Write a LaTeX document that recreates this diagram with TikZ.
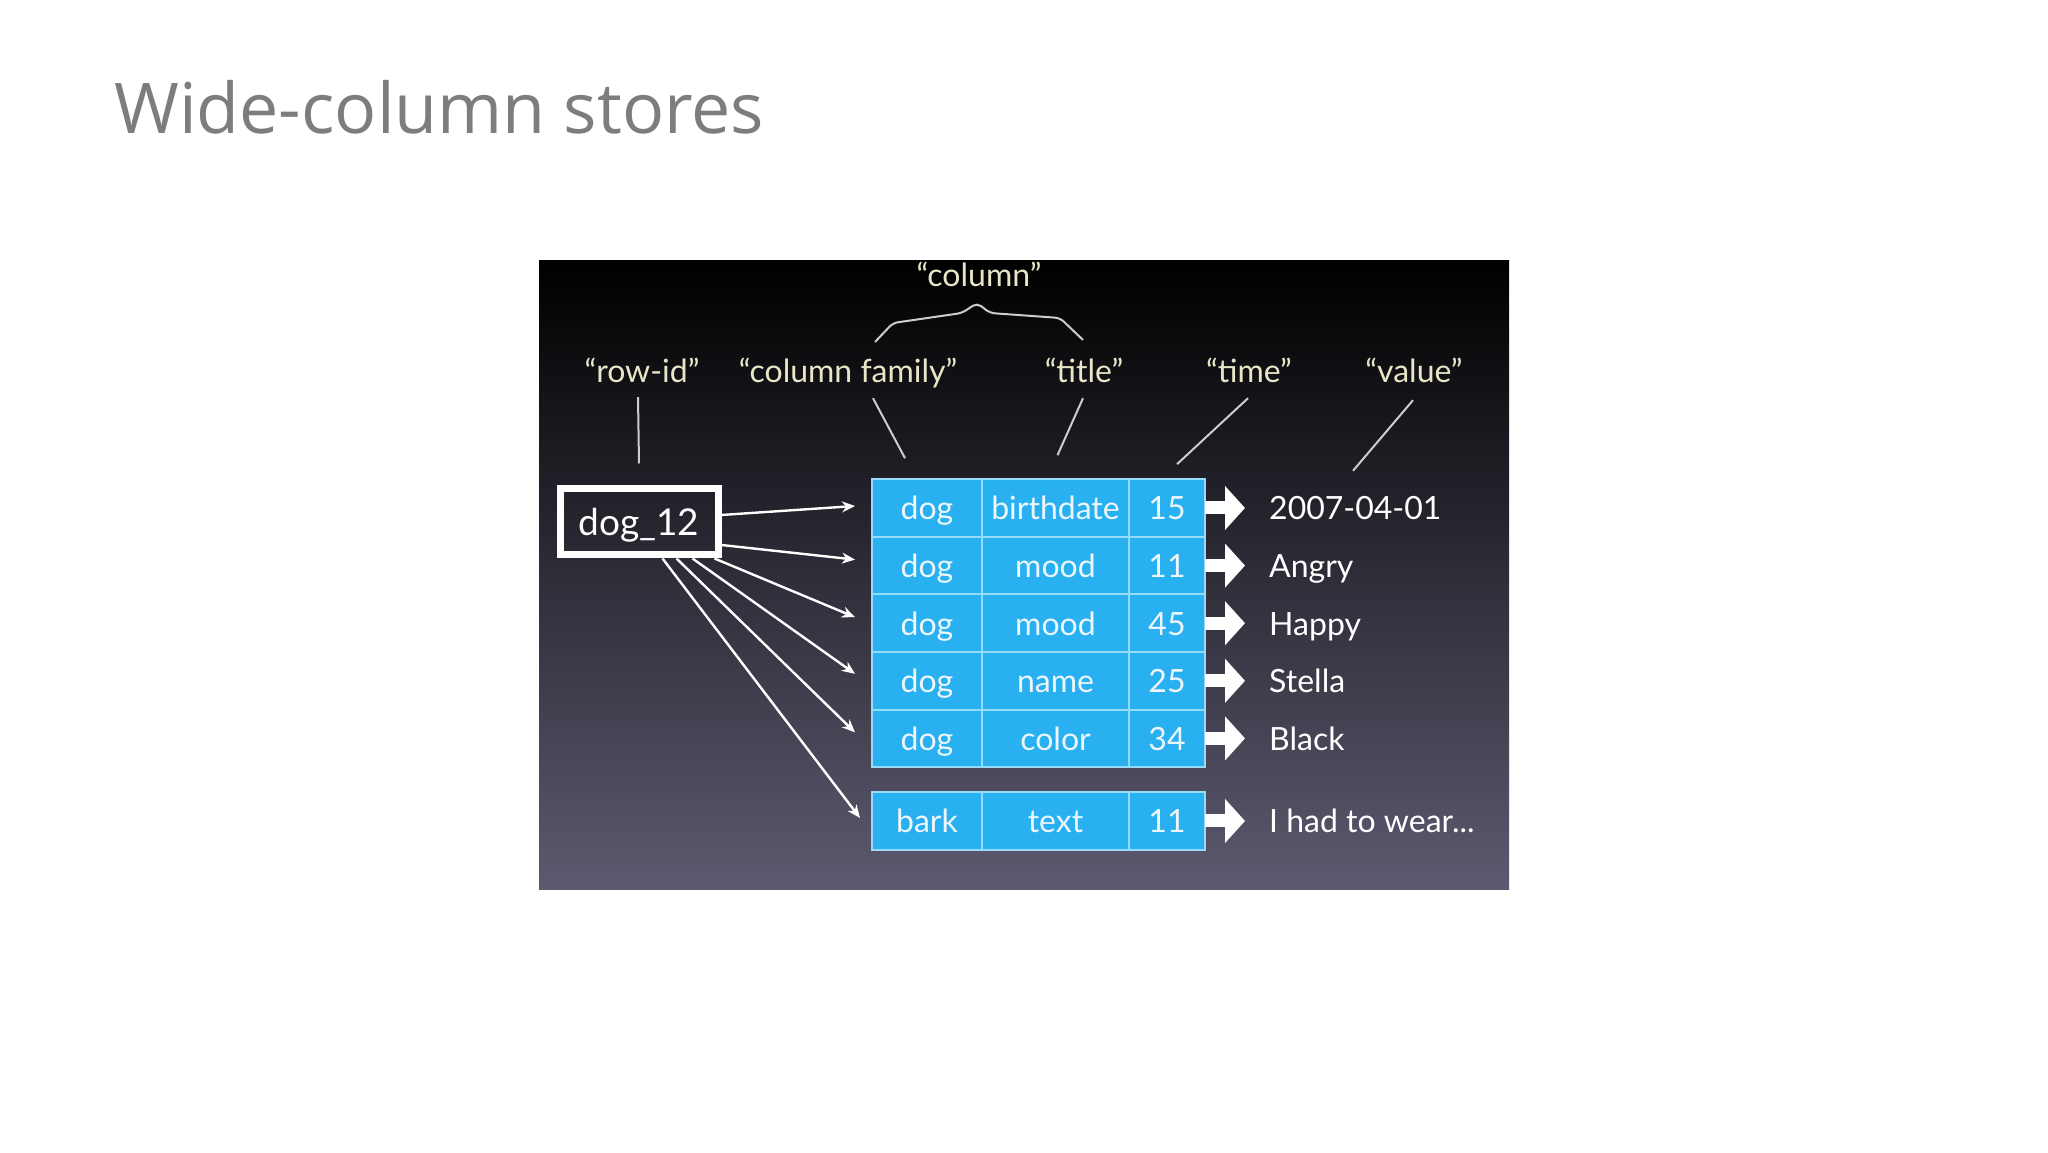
\documentclass[tikz,border=0pt]{standalone}
\usepackage{fontspec}
\setmainfont{Lato}
\newfontfamily\headingfont{Open Sans}
\usetikzlibrary{positioning, arrows.meta}

\definecolor{titlegray}{RGB}{125,125,125}
\definecolor{cellblue}{RGB}{40,176,240}
\definecolor{cellline}{RGB}{150,220,250}
\definecolor{celltext}{RGB}{236,246,252}
\definecolor{labelcream}{RGB}{232,229,200}
\definecolor{linegray}{RGB}{205,205,205}
\definecolor{panelmid}{RGB}{26,26,62}
\definecolor{panelbottom}{RGB}{92,90,112}

\tikzstyle{cell} = [rectangle, draw=cellline, fill=cellblue, line width=2pt, minimum height=57.6pt, inner sep=0pt, outer sep=0pt, text=celltext, text height=25pt, text depth=1pt, font={\fontsize{32}{36}\selectfont}]
\tikzstyle{famcell} = [cell, minimum width=110pt]
\tikzstyle{titlecell} = [cell, minimum width=147pt]
\tikzstyle{timecell} = [cell, minimum width=76pt]
\tikzstyle{valtext} = [inner sep=0pt, text=white, text height=25pt, text depth=1pt, font={\fontsize{32}{36}\selectfont}]
\tikzstyle{idbox} = [rectangle, draw=white, line width=7pt, minimum width=158pt, minimum height=66pt, inner sep=0pt, outer sep=3.5pt, text=white, text height=28pt, text depth=1pt, font={\fontsize{37}{40}\selectfont}]
\tikzstyle{hdr} = [inner sep=0pt, text=labelcream, text height=24pt, text depth=7pt, anchor=base, font={\fontsize{32}{36}\selectfont}]
\tikzstyle{pointer} = [draw=linegray, line width=2pt]
\tikzstyle{arrow} = [white, line width=2.4pt, ->, >={Stealth[length=13pt, width=11pt]}]
\tikzstyle{fat} = [white, line width=13pt, -{Triangle[length=20pt, width=43pt]}]

\begin{document}
\begin{tikzpicture}[x=1pt, y=1pt]

    \fill[white] (0,0) rectangle (2048,1152);
    \useasboundingbox (0,0) rectangle (2048,1152);

    \node (heading) [anchor=base west, inner sep=0pt, text=titlegray, font={\headingfont\fontsize{70}{80}\selectfont}] at (114,1018) {Wide-column stores};

    \shade[top color=black, middle color=panelmid, bottom color=panelbottom] (539,262) rectangle (1509,891);

    \node (id) [idbox] at (639,630) {dog\_12};

    \node (r1a) [famcell] at (927,644) {dog};
    \node (r1b) [titlecell, right=0pt of r1a] {birthdate};
    \node (r1c) [timecell, right=0pt of r1b] {15};

    \node (r2a) [famcell, below=0pt of r1a] {dog};
    \node (r2b) [titlecell, right=0pt of r2a] {mood};
    \node (r2c) [timecell, right=0pt of r2b] {11};

    \node (r3a) [famcell, below=0pt of r2a] {dog};
    \node (r3b) [titlecell, right=0pt of r3a] {mood};
    \node (r3c) [timecell, right=0pt of r3b] {45};

    \node (r4a) [famcell, below=0pt of r3a] {dog};
    \node (r4b) [titlecell, right=0pt of r4a] {name};
    \node (r4c) [timecell, right=0pt of r4b] {25};

    \node (r5a) [famcell, below=0pt of r4a] {dog};
    \node (r5b) [titlecell, right=0pt of r5a] {color};
    \node (r5c) [timecell, right=0pt of r5b] {34};

    \node (r6a) [famcell, below=25pt of r5a] {bark};
    \node (r6b) [titlecell, right=0pt of r6a] {text};
    \node (r6c) [timecell, right=0pt of r6b] {11};

    \node (v1) [valtext, right=64pt of r1c] {2007-04-01};
    \node (v2) [valtext, right=64pt of r2c] {Angry};
    \node (v3) [valtext, right=64pt of r3c] {Happy};
    \node (v4) [valtext, right=64pt of r4c] {Stella};
    \node (v5) [valtext, right=64pt of r5c] {Black};
    \node (v6) [valtext, right=64pt of r6c] {I had to wear...};

    \node (column) [hdr] at (979,865) {“column”};
    \node (rowid) [hdr] at (642,769) {“row-id”};
    \node (colfam) [hdr] at (848,769) {“column family”};
    \node (title) [hdr] at (1084,769) {“title”};
    \node (time) [hdr] at (1249,769) {“time”};
    \node (value) [hdr] at (1414,769) {“value”};

    \draw[pointer, rounded corners=5pt] (875,810) -- (893,829) -- (962,839) -- (977,849) -- (990,839) -- (1060,834) -- (1083,812);

    \draw[pointer] ([xshift=-4pt, yshift=-7pt]rowid.south) -- ([yshift=22pt]id.north);
    \draw[pointer] ([xshift=25pt, yshift=-8pt]colfam.south) -- ([xshift=-22pt, yshift=21pt]r1a.north);
    \draw[pointer] ([xshift=-1pt, yshift=-8pt]title.south) -- ([xshift=2pt, yshift=24pt]r1b.north);
    \draw[pointer] ([xshift=-1pt, yshift=-8pt]time.south) -- ([xshift=10pt, yshift=15pt]r1c.north);
    \draw[pointer] ([xshift=-1pt, yshift=-10pt]value.south) -- ([xshift=84pt, yshift=24pt]v1.north west);

    \draw[arrow] ([yshift=7pt]id.east) -- ([xshift=-17pt, yshift=2pt]r1a.west);
    \draw[arrow] ([yshift=-23pt]id.east) -- ([xshift=-17pt, yshift=6pt]r2a.west);
    \draw[arrow] ([xshift=-7pt]id.south east) -- ([xshift=-17pt, yshift=6pt]r3a.west);
    \draw[arrow] ([xshift=-29pt]id.south east) -- ([xshift=-17pt, yshift=7pt]r4a.west);
    \draw[arrow] ([xshift=-45pt]id.south east) -- ([xshift=-17pt, yshift=6pt]r5a.west);
    \draw[arrow] ([xshift=-59pt]id.south east) -- ([xshift=-12pt, yshift=3pt]r6a.west);

    \draw[fat] (r1c.east) -- ([xshift=40pt]r1c.east);
    \draw[fat] (r2c.east) -- ([xshift=40pt]r2c.east);
    \draw[fat] (r3c.east) -- ([xshift=40pt]r3c.east);
    \draw[fat] (r4c.east) -- ([xshift=40pt]r4c.east);
    \draw[fat] (r5c.east) -- ([xshift=40pt]r5c.east);
    \draw[fat] (r6c.east) -- ([xshift=40pt]r6c.east);

\end{tikzpicture}
\end{document}
